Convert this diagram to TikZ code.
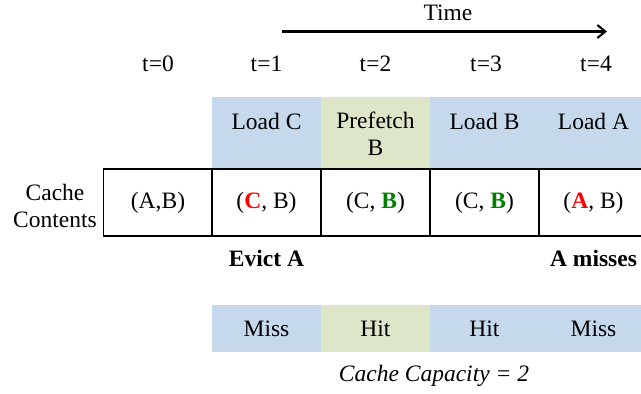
\documentclass[tikz,border=0pt]{standalone}
\usepackage{fontspec}
\setmainfont{Liberation Serif}
\usetikzlibrary{arrows.meta}
\definecolor{blueH}{HTML}{C6D8EC}
\definecolor{greenH}{HTML}{DDE6C9}
\definecolor{redT}{HTML}{FF0000}
\definecolor{greenT}{HTML}{008000}
\begin{document}
\begin{tikzpicture}[x=1pt,y=-1pt,
  txt/.style={inner sep=0pt, font=\fontsize{23.5}{27}\selectfont, align=center},
  hbox/.style={draw=none, inner sep=0pt, minimum width=109pt, minimum height=72pt},
  mbox/.style={draw=none, inner sep=0pt, minimum width=109pt, minimum height=47pt},
  cellbox/.style={draw=black, line width=1.2pt, inner sep=0pt, minimum width=109pt, minimum height=67pt, font=\fontsize{23.5}{27}\selectfont}]
\useasboundingbox (0,0) rectangle (641,394);
\clip (0,0) rectangle (641,394);
% time arrow
\node[txt] (time) at (448,13) {Time};
\coordinate (as) at (282,31.5);
\coordinate (ae) at (607,31.5);
\draw[line width=2.3pt, -{Straight Barb[length=8pt,width=13pt,line width=2.1pt]}] (as) -- (ae);
% t labels
\node[txt] (t0) at (158,64) {t=0};
\node[txt] (t1) at (266.5,64) {t=1};
\node[txt] (t2) at (375.5,64) {t=2};
\node[txt] (t3) at (486,64) {t=3};
\node[txt] (t4) at (596,64) {t=4};
% header boxes
\node[hbox, fill=blueH] (h1) at (266.5,133) {};
\node[hbox, fill=greenH] (h2) at (375.5,133) {};
\node[hbox, fill=blueH] (h3) at (484.5,133) {};
\node[hbox, fill=blueH] (h4) at (593.5,133) {};
\node[txt] (h1t) at (266.5,121) {Load C};
\node[txt] (h2t) at (375.5,133.5) {Prefetch\\B};
\node[txt] (h3t) at (484.5,121) {Load B};
\node[txt] (h4t) at (593.5,121) {Load A};
% cache contents row
\node[txt] (cc) at (55,205.5) {Cache\\Contents};
\node[cellbox] (c0) at (158,202.5) {(A,B)};
\node[cellbox] (c1) at (266.5,202.5) {(\textbf{\color{redT}C}, B)};
\node[cellbox] (c2) at (375.5,202.5) {(C, \textbf{\color{greenT}B})};
\node[cellbox] (c3) at (484.5,202.5) {(C, \textbf{\color{greenT}B})};
\node[cellbox] (c4) at (593.5,202.5) {(\textbf{\color{redT}A}, B)};
% notes
\node[txt, font=\fontsize{23.5}{27}\selectfont\bfseries] (ev) at (266.5,258) {Evict A};
\node[txt, font=\fontsize{23.5}{27}\selectfont\bfseries] (am) at (593.5,258) {A misses};
% miss/hit row
\node[mbox, fill=blueH] (m1) at (266.5,328.5) {};
\node[mbox, fill=greenH] (m2) at (375.5,328.5) {};
\node[mbox, fill=blueH] (m3) at (484.5,328.5) {};
\node[mbox, fill=blueH] (m4) at (593.5,328.5) {};
\node[txt] (m1t) at (266.5,328.5) {Miss};
\node[txt] (m2t) at (375.5,328.5) {Hit};
\node[txt] (m3t) at (484.5,328.5) {Hit};
\node[txt] (m4t) at (593.5,328.5) {Miss};
\node[txt, font=\fontsize{23.5}{27}\selectfont\itshape] (cap) at (434,376) {Cache Capacity = 2};
\end{tikzpicture}
\end{document}
